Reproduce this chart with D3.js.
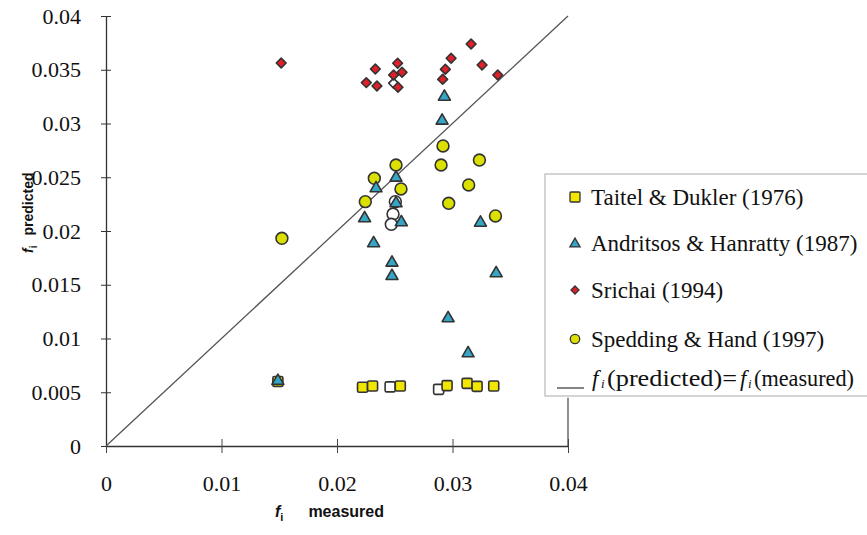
<!DOCTYPE html>
<html>
<head>
<meta charset="utf-8">
<title>fi predicted vs measured</title>
<script src="https://cdn.jsdelivr.net/npm/d3@7"></script>
<style>
  body { margin: 0; background: #fff; }
  svg { display: block; }
</style>
</head>
<body>
<div id="chart"></div>
<script>
// data: [measured, predicted]
var taitel = [[0.01488, 0.00600], [0.02221, 0.00546], [0.02308, 0.00558], [0.02548, 0.00558],
              [0.02953, 0.00562], [0.03126, 0.00583], [0.03213, 0.00555], [0.03357, 0.00558]];
var taitelOpen = [[0.02460, 0.00550], [0.02880, 0.00527]];
var andritsos = [[0.02930, 0.03249], [0.02910, 0.03026], [0.02511, 0.02496], [0.02338, 0.02397],
                 [0.02511, 0.02258], [0.02239, 0.02118], [0.02557, 0.02081], [0.02317, 0.01886],
                 [0.02476, 0.01705], [0.02476, 0.01581], [0.03242, 0.02077], [0.03378, 0.01607],
                 [0.02962, 0.01188], [0.03135, 0.00862], [0.01488, 0.00605]];
var srichai = [[0.01517, 0.03563], [0.02332, 0.03507], [0.02254, 0.03380], [0.02346, 0.03349],
               [0.02525, 0.03560], [0.02490, 0.03451], [0.02563, 0.03476], [0.02528, 0.03337],
               [0.02988, 0.03607], [0.02938, 0.03504], [0.02915, 0.03411], [0.03161, 0.03740],
               [0.03256, 0.03544], [0.03392, 0.03451]];
var srichaiOpen = [[0.02490, 0.03375]];
var spedding = [[0.02918, 0.02791], [0.02901, 0.02614], [0.03233, 0.02660], [0.03140, 0.02428],
                [0.02967, 0.02258], [0.03372, 0.02140], [0.02511, 0.02614], [0.02323, 0.02490],
                [0.02554, 0.02391], [0.02245, 0.02273], [0.01523, 0.01932]];
var speddingOpen = [[0.02505, 0.02273], [0.02485, 0.02158], [0.02470, 0.02062]];

var xTicks = [0, 0.01, 0.02, 0.03, 0.04];
var yTicks = [0, 0.005, 0.01, 0.015, 0.02, 0.025, 0.03, 0.035, 0.04];
var legendNames = ["Taitel & Dukler (1976)", "Andritsos & Hanratty (1987)",
                   "Srichai (1994)", "Spedding & Hand (1997)"];

var w = 867, h = 535;
var svg = d3.select("#chart").append("svg").attr("width", w).attr("height", h);

var x = d3.scaleLinear().domain([0, 0.04]).range([106, 568]);
var y = d3.scaleLinear().domain([0, 0.04]).range([446, 16]);

var serif = "'Liberation Serif'";
var sans = "'Liberation Sans'";
var edge = "#333";

// axes
var xAxis = svg.append("g").attr("transform", "translate(0," + y(0) + ")")
  .call(d3.axisBottom(x).tickValues(xTicks).tickFormat(d3.format("")).tickSizeInner(7).tickSizeOuter(0).tickPadding(22));
xAxis.selectAll(".tick line").attr("y1", -7).attr("stroke", "#444");
var yAxis = svg.append("g").attr("transform", "translate(" + x(0) + ",0)")
  .call(d3.axisLeft(y).tickValues(yTicks).tickFormat(d3.format("")).tickSizeInner(5).tickSizeOuter(0).tickPadding(20));
yAxis.selectAll(".tick line").attr("x1", 5).attr("x2", -5).attr("stroke", "#333");
svg.selectAll(".domain").attr("stroke", "#333").attr("stroke-width", 1.3);
svg.selectAll(".tick text").style("font-family", serif).attr("font-size", 22).attr("fill", "#111");
xAxis.selectAll(".tick text").attr("dy", "0.71em");

// right border of plot area
svg.append("line").attr("x1", x(0.04)).attr("x2", x(0.04)).attr("y1", y(0)).attr("y2", y(0.0045))
  .attr("stroke", "#444").attr("stroke-width", 1.2);

// 1:1 line
svg.append("line").attr("x1", x(0)).attr("y1", y(0)).attr("x2", x(0.04)).attr("y2", y(0.04))
  .attr("stroke", "#555").attr("stroke-width", 1.3);

function square(g, data, fill, s) {
  g.selectAll(null).data(data).enter().append("rect")
    .attr("x", function (d) { return x(d[0]) - s / 2; })
    .attr("y", function (d) { return y(d[1]) - s / 2; })
    .attr("width", s).attr("height", s).attr("rx", 1.5)
    .attr("fill", fill).attr("stroke", edge).attr("stroke-width", 1.6);
}
function symbols(g, data, type, size, fill, rot) {
  g.selectAll(null).data(data).enter().append("path")
    .attr("d", d3.symbol().type(type).size(size))
    .attr("transform", function (d) {
      return "translate(" + x(d[0]) + "," + y(d[1]) + ")" + (rot ? " rotate(" + rot + ")" : "");
    })
    .attr("fill", fill).attr("stroke", edge).attr("stroke-width", 1.6).attr("stroke-linejoin", "round");
}

var pts = svg.append("g");
square(pts, taitelOpen, "#fff", 10);
square(pts, taitel, "#f0e600", 10);
symbols(pts, speddingOpen, d3.symbolCircle, 110, "#fff");
symbols(pts, spedding, d3.symbolCircle, 110, "#dce000");
symbols(pts, andritsos, d3.symbolTriangle, 62, "#35a6c6");
symbols(pts, srichaiOpen, d3.symbolSquare, 48, "#fff", 45);
symbols(pts, srichai, d3.symbolSquare, 48, "#e02028", 45);

// legend
var lg = svg.append("g");
lg.append("rect").attr("x", 545).attr("y", 174).attr("width", 340).attr("height", 222)
  .attr("fill", "#fff").attr("stroke", "#aaa").attr("stroke-width", 1);
var ly = [197, 243, 290, 339];
var lx = 575;
lg.append("rect").attr("x", lx - 5).attr("y", ly[0] - 5).attr("width", 10).attr("height", 10).attr("rx", 1)
  .attr("fill", "#f0e600").attr("stroke", edge).attr("stroke-width", 1.3);
lg.append("path").attr("d", d3.symbol().type(d3.symbolTriangle).size(45)())
  .attr("transform", "translate(" + lx + "," + (ly[1] + 1) + ")")
  .attr("fill", "#35a6c6").attr("stroke", edge).attr("stroke-width", 1.3);
lg.append("path").attr("d", d3.symbol().type(d3.symbolSquare).size(32)())
  .attr("transform", "translate(" + lx + "," + ly[2] + ") rotate(45)")
  .attr("fill", "#e02028").attr("stroke", edge).attr("stroke-width", 1.3);
lg.append("path").attr("d", d3.symbol().type(d3.symbolCircle).size(70)())
  .attr("transform", "translate(" + lx + "," + ly[3] + ")")
  .attr("fill", "#dce000").attr("stroke", edge).attr("stroke-width", 1.3);
lg.selectAll("text.name").data(legendNames).enter().append("text")
  .attr("class", "name")
  .attr("x", 591).attr("y", function (d, i) { return ly[i]; }).attr("dy", "0.35em")
  .style("font-family", serif).attr("font-size", 23).attr("fill", "#111")
  .text(function (d) { return d; });

lg.append("line").attr("x1", 557).attr("x2", 584).attr("y1", 388).attr("y2", 388)
  .attr("stroke", "#333").attr("stroke-width", 1.2);
var eq = lg.append("text").attr("y", 386).style("font-family", serif)
  .attr("font-size", 23).attr("fill", "#111");
eq.append("tspan").attr("x", 592).attr("font-style", "italic").text("f");
eq.append("tspan").attr("x", 601).attr("font-style", "italic").attr("font-size", 13).attr("dy", 2).text("i");
eq.append("tspan").attr("x", 607).attr("dy", -2).attr("textLength", 130)
  .attr("lengthAdjust", "spacingAndGlyphs").text("(predicted)=");
eq.append("tspan").attr("x", 740).attr("font-style", "italic").text("f");
eq.append("tspan").attr("x", 748).attr("font-style", "italic").attr("font-size", 13).attr("dy", 2).text("i");
eq.append("tspan").attr("x", 754).attr("dy", -2).attr("textLength", 100)
  .attr("lengthAdjust", "spacingAndGlyphs").text("(measured)");

// axis titles
var xt = svg.append("text").attr("x", 275).attr("y", 517).style("font-family", sans)
  .attr("font-size", 16).attr("font-weight", "bold").attr("fill", "#111");
xt.append("tspan").attr("font-style", "italic").text("f");
xt.append("tspan").attr("font-size", 11).attr("dy", 4).text("i");
xt.append("tspan").attr("dy", -4).attr("dx", 25).text("measured");

var yt = svg.append("text").attr("transform", "translate(33,253) rotate(-90)").style("font-family", sans)
  .attr("font-size", 14).attr("font-weight", "bold").attr("fill", "#111");
yt.append("tspan").attr("font-style", "italic").text("f");
yt.append("tspan").attr("font-size", 10).attr("dy", 4).text("i");
yt.append("tspan").attr("dy", -4).attr("dx", 10).text("predicted");
</script>
</body>
</html>
